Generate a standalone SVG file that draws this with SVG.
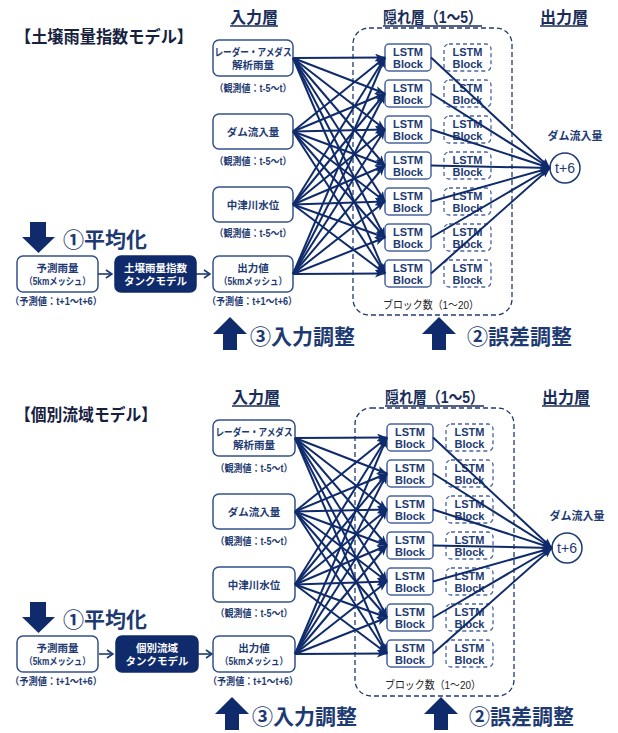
<svg xmlns="http://www.w3.org/2000/svg" width="618" height="733" viewBox="0 0 618 733">
<style>
text{font-family:"Liberation Sans","Noto Sans CJK JP",sans-serif;font-weight:bold;fill:#1d3a72}
.title{font-size:16.5px;fill:#16213e}
.hdr{font-size:16px;fill:#1a2d5a;text-anchor:middle}
.ul{stroke:#1a2d5a;stroke-width:1.5}
.box{fill:#fff;stroke:#34518a;stroke-width:1.5}
.dark{fill:#0f2b6b;stroke:#0f2b6b;stroke-width:1.5}
.bt{font-size:10.5px;text-anchor:middle}
.mt{font-size:10px;text-anchor:middle}
.wt{font-size:10.5px;text-anchor:middle;fill:#fff}
.lab{font-size:10px;text-anchor:middle}
.blk{fill:#fff;stroke:#4a64a0;stroke-width:1.5}
.dblk{fill:#fff;stroke:#4a64a0;stroke-width:1.3;stroke-dasharray:4 3}
.lt{font-size:11px;text-anchor:middle}
.cont{fill:none;stroke:#1f3a72;stroke-width:1.3;stroke-dasharray:5 3}
.cnt{font-size:11px;text-anchor:middle;fill:#222;font-weight:normal}
.big{font-size:21px;fill:#1d3a72}
.fat{fill:#0f2b6b}
.c line{stroke:#0f2b6b;stroke-width:2;marker-end:url(#ah)}
.sa{stroke:#1d3a72;stroke-width:1.6;fill:none;marker-end:url(#oh)}
</style>
<defs>
<marker id="ah" viewBox="0 0 10 8" refX="10" refY="4" markerWidth="10" markerHeight="8" orient="auto" markerUnits="userSpaceOnUse"><path d="M0,0 L10,4 L0,8 L2.5,4 z" fill="#0f2b6b"/></marker>
<marker id="oh" viewBox="0 0 8 10" refX="7" refY="5" markerWidth="8" markerHeight="10" orient="auto" markerUnits="userSpaceOnUse"><path d="M1,1 L7,5 L1,9" fill="none" stroke="#1d3a72" stroke-width="1.6"/></marker>
</defs>

<!-- ===== TOP PANEL ===== -->
<g id="top-panel">
<g id="title-top"><text x="15" y="43" class="title" textLength="178" lengthAdjust="spacingAndGlyphs">【土壌雨量指数モデル】</text></g>
<g id="hdr-in-top"><text x="254" y="23" class="hdr">入力層</text><line class="ul" x1="230" y1="26" x2="278" y2="26"/></g>
<g id="hdr-hid-top"><text x="432.5" y="23" class="hdr" textLength="99" lengthAdjust="spacingAndGlyphs">隠れ層（1～5）</text><line class="ul" x1="383" y1="26" x2="482" y2="26"/></g>
<g id="hdr-out-top"><text x="564" y="23" class="hdr">出力層</text><line class="ul" x1="540" y1="26" x2="588" y2="26"/></g>

<g id="hidden-top"><rect class="cont" x="353" y="28" width="159" height="287" rx="16"/><text class="cnt" x="431" y="309" textLength="96" lengthAdjust="spacingAndGlyphs">ブロック数（1～20）</text></g>

<g id="in1-top"><rect class="box" x="213" y="40" width="80" height="36" rx="6"/><text class="bt" x="253" y="56" textLength="77" lengthAdjust="spacingAndGlyphs">レーダー・アメダス</text><text class="bt" x="253" y="69">解析雨量</text><text class="lab" x="253" y="92" textLength="77" lengthAdjust="spacingAndGlyphs">（観測値：t-5～t）</text></g>
<g id="in2-top"><rect class="box" x="213" y="114" width="80" height="35" rx="6"/><text class="bt" x="253" y="136">ダム流入量</text><text class="lab" x="253" y="165" textLength="77" lengthAdjust="spacingAndGlyphs">（観測値：t-5～t）</text></g>
<g id="in3-top"><rect class="box" x="213" y="187" width="80" height="35" rx="6"/><text class="bt" x="253" y="209">中津川水位</text><text class="lab" x="253" y="237" textLength="77" lengthAdjust="spacingAndGlyphs">（観測値：t-5～t）</text></g>
<g id="in4-top"><rect class="box" x="213" y="256" width="80" height="36" rx="6"/><text class="bt" x="253" y="272">出力値</text><text class="mt" x="253" y="285" textLength="68" lengthAdjust="spacingAndGlyphs">（5kmメッシュ）</text><text class="lab" x="252" y="305" textLength="90" lengthAdjust="spacingAndGlyphs">（予測値：t+1～t+6）</text></g>

<g id="rain-top"><rect class="box" x="17" y="256" width="81" height="36" rx="6"/><text class="bt" x="57.5" y="272">予測雨量</text><text class="mt" x="57.5" y="285" textLength="66" lengthAdjust="spacingAndGlyphs">（5kmメッシュ）</text><text class="lab" x="56" y="305" textLength="92" lengthAdjust="spacingAndGlyphs">（予測値：t+1～t+6）</text></g>
<g id="tank-top"><rect class="dark" x="115" y="256" width="81" height="36" rx="6"/><text class="wt" x="155.5" y="272">土壌雨量指数</text><text class="wt" x="155.5" y="285">タンクモデル</text></g>

<g id="avg-top"><polygon class="fat" points="30,222 46,222 46,237 55,237 38.5,253 22,237 30,237"/><text class="big" x="63" y="247">①平均化</text></g>
<g id="adj3-top"><polygon class="fat" points="230,317 247,334 237,334 237,350 223,350 223,334 213,334"/><text class="big" x="250" y="344">③入力調整</text></g>
<g id="adj2-top"><polygon class="fat" points="439,317 456,334 446,334 446,350 432,350 432,334 422,334"/><text class="big" x="467" y="344">②誤差調整</text></g>

<g id="d1-top"><rect class="dblk" x="444" y="44" width="47" height="27" rx="5"/><text class="lt" x="467.5" y="56">LSTM</text><text class="lt" x="467.5" y="68">Block</text></g>
<g id="d2-top"><rect class="dblk" x="444" y="80" width="47" height="27" rx="5"/><text class="lt" x="467.5" y="92">LSTM</text><text class="lt" x="467.5" y="104">Block</text></g>
<g id="d3-top"><rect class="dblk" x="444" y="116" width="47" height="27" rx="5"/><text class="lt" x="467.5" y="128">LSTM</text><text class="lt" x="467.5" y="140">Block</text></g>
<g id="d4-top"><rect class="dblk" x="444" y="152" width="47" height="27" rx="5"/><text class="lt" x="467.5" y="164">LSTM</text><text class="lt" x="467.5" y="176">Block</text></g>
<g id="d5-top"><rect class="dblk" x="444" y="188" width="47" height="27" rx="5"/><text class="lt" x="467.5" y="200">LSTM</text><text class="lt" x="467.5" y="212">Block</text></g>
<g id="d6-top"><rect class="dblk" x="444" y="224" width="47" height="27" rx="5"/><text class="lt" x="467.5" y="236">LSTM</text><text class="lt" x="467.5" y="248">Block</text></g>
<g id="d7-top"><rect class="dblk" x="444" y="260" width="47" height="27" rx="5"/><text class="lt" x="467.5" y="272">LSTM</text><text class="lt" x="467.5" y="284">Block</text></g>

<g id="b1-top"><rect class="blk" x="385" y="44" width="46" height="27" rx="4"/><text class="lt" x="408" y="56">LSTM</text><text class="lt" x="408" y="68">Block</text></g>
<g id="b2-top"><rect class="blk" x="385" y="80" width="46" height="27" rx="4"/><text class="lt" x="408" y="92">LSTM</text><text class="lt" x="408" y="104">Block</text></g>
<g id="b3-top"><rect class="blk" x="385" y="116" width="46" height="27" rx="4"/><text class="lt" x="408" y="128">LSTM</text><text class="lt" x="408" y="140">Block</text></g>
<g id="b4-top"><rect class="blk" x="385" y="152" width="46" height="27" rx="4"/><text class="lt" x="408" y="164">LSTM</text><text class="lt" x="408" y="176">Block</text></g>
<g id="b5-top"><rect class="blk" x="385" y="188" width="46" height="27" rx="4"/><text class="lt" x="408" y="200">LSTM</text><text class="lt" x="408" y="212">Block</text></g>
<g id="b6-top"><rect class="blk" x="385" y="224" width="46" height="27" rx="4"/><text class="lt" x="408" y="236">LSTM</text><text class="lt" x="408" y="248">Block</text></g>
<g id="b7-top"><rect class="blk" x="385" y="260" width="46" height="27" rx="4"/><text class="lt" x="408" y="272">LSTM</text><text class="lt" x="408" y="284">Block</text></g>

<g id="out-top"><circle cx="565" cy="168" r="15" fill="#fff" stroke="#1d3a72" stroke-width="1.5"/><text x="565" y="173" style="font-size:14px;font-weight:normal;text-anchor:middle">t+6</text><text class="bt" x="575" y="140" style="font-size:11px">ダム流入量</text></g>

<g id="connectors-top">
<path class="sa" d="M98,274 H112"/><path class="sa" d="M196,274 H210"/>
<g class="c">
<line x1="293" y1="58" x2="385" y2="57.5"/><line x1="293" y1="58" x2="385" y2="93.5"/><line x1="293" y1="58" x2="385" y2="129.5"/><line x1="293" y1="58" x2="385" y2="165.5"/><line x1="293" y1="58" x2="385" y2="201.5"/><line x1="293" y1="58" x2="385" y2="237.5"/><line x1="293" y1="58" x2="385" y2="273.5"/>
<line x1="293" y1="131.5" x2="385" y2="57.5"/><line x1="293" y1="131.5" x2="385" y2="93.5"/><line x1="293" y1="131.5" x2="385" y2="129.5"/><line x1="293" y1="131.5" x2="385" y2="165.5"/><line x1="293" y1="131.5" x2="385" y2="201.5"/><line x1="293" y1="131.5" x2="385" y2="237.5"/><line x1="293" y1="131.5" x2="385" y2="273.5"/>
<line x1="293" y1="204.5" x2="385" y2="57.5"/><line x1="293" y1="204.5" x2="385" y2="93.5"/><line x1="293" y1="204.5" x2="385" y2="129.5"/><line x1="293" y1="204.5" x2="385" y2="165.5"/><line x1="293" y1="204.5" x2="385" y2="201.5"/><line x1="293" y1="204.5" x2="385" y2="237.5"/><line x1="293" y1="204.5" x2="385" y2="273.5"/>
<line x1="293" y1="274" x2="385" y2="57.5"/><line x1="293" y1="274" x2="385" y2="93.5"/><line x1="293" y1="274" x2="385" y2="129.5"/><line x1="293" y1="274" x2="385" y2="165.5"/><line x1="293" y1="274" x2="385" y2="201.5"/><line x1="293" y1="274" x2="385" y2="237.5"/><line x1="293" y1="274" x2="385" y2="273.5"/>
<line x1="431" y1="57.5" x2="550" y2="168"/><line x1="431" y1="93.5" x2="550" y2="168"/><line x1="431" y1="129.5" x2="550" y2="168"/><line x1="431" y1="165.5" x2="550" y2="168"/><line x1="431" y1="201.5" x2="550" y2="168"/><line x1="431" y1="237.5" x2="550" y2="168"/><line x1="431" y1="273.5" x2="550" y2="168"/>
</g>
</g>
</g>

<!-- ===== BOTTOM PANEL ===== -->
<g id="bottom-panel">
<g id="title-bot"><text x="15" y="421" class="title" textLength="142" lengthAdjust="spacingAndGlyphs">【個別流域モデル】</text></g>
<g id="bot-left" transform="translate(0,380)">
<g id="rain-bot"><rect class="box" x="17" y="256" width="81" height="36" rx="6"/><text class="bt" x="57.5" y="272">予測雨量</text><text class="mt" x="57.5" y="285" textLength="66" lengthAdjust="spacingAndGlyphs">（5kmメッシュ）</text><text class="lab" x="56" y="305" textLength="92" lengthAdjust="spacingAndGlyphs">（予測値：t+1～t+6）</text></g>
<g id="tank-bot"><rect class="dark" x="116" y="256" width="82" height="36" rx="6"/><text class="wt" x="157" y="272">個別流域</text><text class="wt" x="157" y="285">タンクモデル</text></g>
<g id="avg-bot"><polygon class="fat" points="30,222 46,222 46,237 55,237 38.5,253 22,237 30,237"/><text class="big" x="63" y="247">①平均化</text></g>
<g id="connectors-bot-left"><path class="sa" d="M99,274 H113"/><path class="sa" d="M198,274 H212"/></g>
</g>
<g id="bot-main" transform="translate(2,380)">
<g id="hdr-in-bot"><text x="254" y="23" class="hdr">入力層</text><line class="ul" x1="230" y1="26" x2="278" y2="26"/></g>
<g id="hdr-hid-bot"><text x="432.5" y="23" class="hdr" textLength="99" lengthAdjust="spacingAndGlyphs">隠れ層（1～5）</text><line class="ul" x1="383" y1="26" x2="482" y2="26"/></g>
<g id="hdr-out-bot"><text x="564" y="23" class="hdr">出力層</text><line class="ul" x1="540" y1="26" x2="588" y2="26"/></g>

<g id="hidden-bot"><rect class="cont" x="353" y="28" width="159" height="288" rx="16"/><text class="cnt" x="431" y="309" textLength="96" lengthAdjust="spacingAndGlyphs">ブロック数（1～20）</text></g>

<g id="in1-bot"><rect class="box" x="211" y="40" width="82" height="36" rx="6"/><text class="bt" x="252" y="56" textLength="77" lengthAdjust="spacingAndGlyphs">レーダー・アメダス</text><text class="bt" x="252" y="69">解析雨量</text><text class="lab" x="252" y="92" textLength="77" lengthAdjust="spacingAndGlyphs">（観測値：t-5～t）</text></g>
<g id="in2-bot"><rect class="box" x="211" y="114" width="82" height="35" rx="6"/><text class="bt" x="252" y="136">ダム流入量</text><text class="lab" x="252" y="165" textLength="77" lengthAdjust="spacingAndGlyphs">（観測値：t-5～t）</text></g>
<g id="in3-bot"><rect class="box" x="211" y="187" width="82" height="35" rx="6"/><text class="bt" x="252" y="209">中津川水位</text><text class="lab" x="252" y="237" textLength="77" lengthAdjust="spacingAndGlyphs">（観測値：t-5～t）</text></g>
<g id="in4-bot"><rect class="box" x="211" y="256" width="82" height="36" rx="6"/><text class="bt" x="252" y="272">出力値</text><text class="mt" x="252" y="285" textLength="68" lengthAdjust="spacingAndGlyphs">（5kmメッシュ）</text><text class="lab" x="251" y="305" textLength="90" lengthAdjust="spacingAndGlyphs">（予測値：t+1～t+6）</text></g>

<g id="adj3-bot"><polygon class="fat" points="230,317 247,334 237,334 237,350 223,350 223,334 213,334"/><text class="big" x="250" y="344">③入力調整</text></g>
<g id="adj2-bot"><polygon class="fat" points="439,317 456,334 446,334 446,350 432,350 432,334 422,334"/><text class="big" x="467" y="344">②誤差調整</text></g>

<g id="d1-bot"><rect class="dblk" x="444" y="44" width="47" height="27" rx="5"/><text class="lt" x="467.5" y="56">LSTM</text><text class="lt" x="467.5" y="68">Block</text></g>
<g id="d2-bot"><rect class="dblk" x="444" y="80" width="47" height="27" rx="5"/><text class="lt" x="467.5" y="92">LSTM</text><text class="lt" x="467.5" y="104">Block</text></g>
<g id="d3-bot"><rect class="dblk" x="444" y="116" width="47" height="27" rx="5"/><text class="lt" x="467.5" y="128">LSTM</text><text class="lt" x="467.5" y="140">Block</text></g>
<g id="d4-bot"><rect class="dblk" x="444" y="152" width="47" height="27" rx="5"/><text class="lt" x="467.5" y="164">LSTM</text><text class="lt" x="467.5" y="176">Block</text></g>
<g id="d5-bot"><rect class="dblk" x="444" y="188" width="47" height="27" rx="5"/><text class="lt" x="467.5" y="200">LSTM</text><text class="lt" x="467.5" y="212">Block</text></g>
<g id="d6-bot"><rect class="dblk" x="444" y="224" width="47" height="27" rx="5"/><text class="lt" x="467.5" y="236">LSTM</text><text class="lt" x="467.5" y="248">Block</text></g>
<g id="d7-bot"><rect class="dblk" x="444" y="260" width="47" height="27" rx="5"/><text class="lt" x="467.5" y="272">LSTM</text><text class="lt" x="467.5" y="284">Block</text></g>

<g id="b1-bot"><rect class="blk" x="385" y="44" width="46" height="27" rx="4"/><text class="lt" x="408" y="56">LSTM</text><text class="lt" x="408" y="68">Block</text></g>
<g id="b2-bot"><rect class="blk" x="385" y="80" width="46" height="27" rx="4"/><text class="lt" x="408" y="92">LSTM</text><text class="lt" x="408" y="104">Block</text></g>
<g id="b3-bot"><rect class="blk" x="385" y="116" width="46" height="27" rx="4"/><text class="lt" x="408" y="128">LSTM</text><text class="lt" x="408" y="140">Block</text></g>
<g id="b4-bot"><rect class="blk" x="385" y="152" width="46" height="27" rx="4"/><text class="lt" x="408" y="164">LSTM</text><text class="lt" x="408" y="176">Block</text></g>
<g id="b5-bot"><rect class="blk" x="385" y="188" width="46" height="27" rx="4"/><text class="lt" x="408" y="200">LSTM</text><text class="lt" x="408" y="212">Block</text></g>
<g id="b6-bot"><rect class="blk" x="385" y="224" width="46" height="27" rx="4"/><text class="lt" x="408" y="236">LSTM</text><text class="lt" x="408" y="248">Block</text></g>
<g id="b7-bot"><rect class="blk" x="385" y="260" width="46" height="27" rx="4"/><text class="lt" x="408" y="272">LSTM</text><text class="lt" x="408" y="284">Block</text></g>

<g id="out-bot"><circle cx="565" cy="168" r="15" fill="#fff" stroke="#1d3a72" stroke-width="1.5"/><text x="565" y="173" style="font-size:14px;font-weight:normal;text-anchor:middle">t+6</text><text class="bt" x="575" y="140" style="font-size:11px">ダム流入量</text></g>

<g id="connectors-bot" class="c">
<line x1="293" y1="58" x2="385" y2="57.5"/><line x1="293" y1="58" x2="385" y2="93.5"/><line x1="293" y1="58" x2="385" y2="129.5"/><line x1="293" y1="58" x2="385" y2="165.5"/><line x1="293" y1="58" x2="385" y2="201.5"/><line x1="293" y1="58" x2="385" y2="237.5"/><line x1="293" y1="58" x2="385" y2="273.5"/>
<line x1="293" y1="131.5" x2="385" y2="57.5"/><line x1="293" y1="131.5" x2="385" y2="93.5"/><line x1="293" y1="131.5" x2="385" y2="129.5"/><line x1="293" y1="131.5" x2="385" y2="165.5"/><line x1="293" y1="131.5" x2="385" y2="201.5"/><line x1="293" y1="131.5" x2="385" y2="237.5"/><line x1="293" y1="131.5" x2="385" y2="273.5"/>
<line x1="293" y1="204.5" x2="385" y2="57.5"/><line x1="293" y1="204.5" x2="385" y2="93.5"/><line x1="293" y1="204.5" x2="385" y2="129.5"/><line x1="293" y1="204.5" x2="385" y2="165.5"/><line x1="293" y1="204.5" x2="385" y2="201.5"/><line x1="293" y1="204.5" x2="385" y2="237.5"/><line x1="293" y1="204.5" x2="385" y2="273.5"/>
<line x1="293" y1="274" x2="385" y2="57.5"/><line x1="293" y1="274" x2="385" y2="93.5"/><line x1="293" y1="274" x2="385" y2="129.5"/><line x1="293" y1="274" x2="385" y2="165.5"/><line x1="293" y1="274" x2="385" y2="201.5"/><line x1="293" y1="274" x2="385" y2="237.5"/><line x1="293" y1="274" x2="385" y2="273.5"/>
<line x1="431" y1="57.5" x2="550" y2="168"/><line x1="431" y1="93.5" x2="550" y2="168"/><line x1="431" y1="129.5" x2="550" y2="168"/><line x1="431" y1="165.5" x2="550" y2="168"/><line x1="431" y1="201.5" x2="550" y2="168"/><line x1="431" y1="237.5" x2="550" y2="168"/><line x1="431" y1="273.5" x2="550" y2="168"/>
</g>
</g>
</g>
</svg>
